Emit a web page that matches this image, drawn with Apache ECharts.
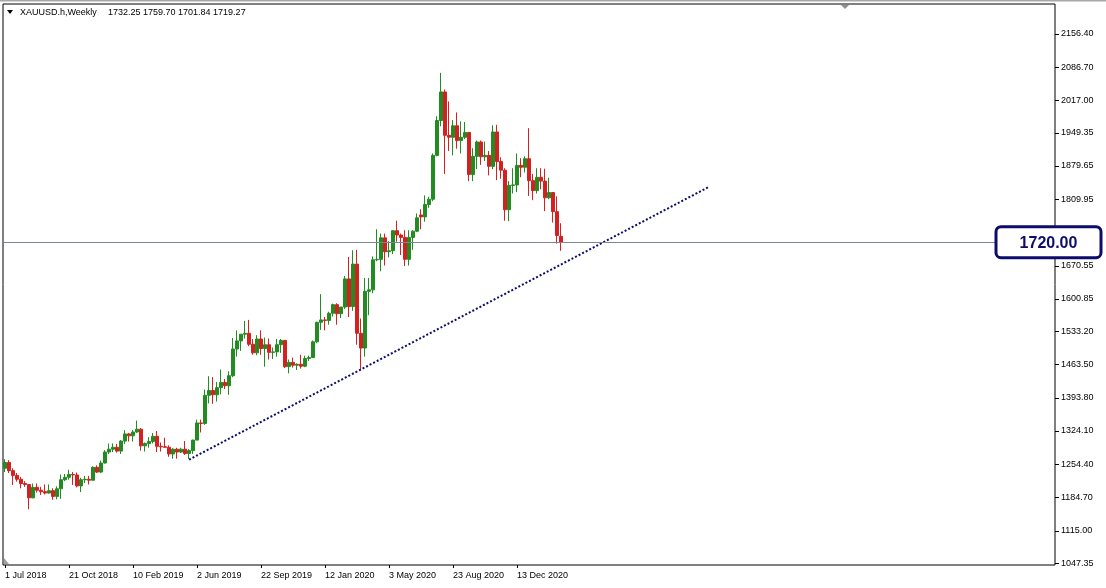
<!DOCTYPE html>
<html><head><meta charset="utf-8">
<script src="https://cdn.jsdelivr.net/npm/echarts@6/dist/echarts.min.js"></script>
<style>html,body{margin:0;padding:0;background:#fff;overflow:hidden}#c{width:1106px;height:588px}</style>
</head><body><div id="c"></div>
<script>
// ---- data ----
const symbolName = 'XAUUSD.h,Weekly';
const tickLabels = ['1 Jul 2018','21 Oct 2018','10 Feb 2019','2 Jun 2019','22 Sep 2019','12 Jan 2020','3 May 2020','23 Aug 2020','13 Dec 2020'];
const yTicks = [2156.40,2086.70,2017.00,1949.35,1879.65,1809.95,1670.55,1600.85,1533.20,1463.50,1393.80,1324.10,1254.40,1184.70,1115.00,1047.35];
const levelPrice = 1720;
const trendPoints = [[46,1264],[176,1836]];
const open = [1246,1258,1241,1231,1223,1214,1212,1184,1206,1200,1197,1194,1199,1187,1203,1222,1227,1233,1232,1209,
1222,1223,1221,1248,1238,1257,1280,1286,1290,1282,1303,1318,1314,1322,1328,1293,1298,1302,1313,1292,
1291,1290,1276,1286,1280,1286,1277,1283,1305,1341,1340,1399,1409,1400,1415,1426,1419,1440,1496,1513,
1527,1529,1506,1488,1517,1497,1505,1489,1490,1505,1514,1459,1468,1462,1464,1460,1476,1478,1511,1552,
1557,1556,1571,1589,1570,1584,1643,1585,1674,1529,1498,1617,1620,1683,1684,1729,1700,1702,1744,1735,
1730,1684,1730,1743,1777,1773,1799,1810,1902,1975,2035,1944,1940,1964,1933,1940,1950,1862,1900,1930,
1899,1902,1879,1951,1889,1871,1788,1839,1840,1881,1877,1895,1849,1828,1856,1848,1813,1824,1784,1732.25];
const high = [1265,1263,1246,1236,1228,1219,1213,1214,1214,1207,1212,1212,1204,1208,1233,1234,1243,1238,1237,1226,
1230,1230,1250,1252,1262,1284,1298,1298,1297,1305,1326,1320,1326,1346,1330,1300,1311,1320,1324,1300,
1310,1294,1288,1289,1289,1303,1286,1306,1348,1348,1411,1439,1437,1427,1453,1433,1449,1519,1535,1527,
1555,1557,1517,1525,1535,1520,1518,1499,1517,1517,1515,1474,1478,1466,1484,1482,1482,1514,1553,1611,
1563,1574,1591,1592,1584,1649,1689,1703,1704,1560,1645,1645,1690,1747,1738,1738,1722,1745,1765,1738,
1745,1745,1745,1780,1789,1818,1815,1906,1984,2075,2040,2015,1976,1992,1973,1972,1951,1917,1933,1933,
1931,1911,1965,1966,1898,1875,1848,1875,1906,1896,1900,1959,1863,1875,1875,1874,1855,1825,1816,1759.70];
const low = [1238,1236,1211,1218,1204,1207,1160,1183,1195,1190,1191,1193,1180,1181,1182,1219,1222,1211,1206,1196,
1215,1212,1220,1236,1236,1256,1276,1280,1279,1276,1297,1302,1302,1320,1283,1281,1289,1298,1280,1281,
1289,1270,1266,1266,1278,1274,1266,1276,1305,1321,1337,1382,1381,1386,1401,1412,1400,1437,1480,1492,
1518,1502,1484,1483,1484,1459,1474,1475,1480,1488,1456,1445,1457,1452,1455,1458,1471,1477,1508,1536,
1535,1547,1564,1547,1561,1580,1563,1576,1505,1451,1480,1567,1613,1680,1659,1671,1688,1695,1721,1693,
1670,1671,1704,1741,1747,1763,1792,1806,1900,1963,1863,1911,1902,1916,1906,1936,1848,1848,1873,1882,
1890,1860,1873,1850,1853,1765,1764,1822,1825,1856,1866,1817,1808,1822,1831,1785,1810,1761,1717,1701.84];
const close = [1258,1241,1231,1223,1214,1212,1184,1206,1200,1197,1194,1199,1187,1203,1222,1227,1233,1232,1209,1222,
1223,1221,1248,1238,1257,1280,1286,1290,1282,1303,1318,1314,1322,1328,1293,1298,1302,1313,1292,1291,
1290,1276,1286,1280,1286,1277,1283,1305,1341,1340,1399,1409,1400,1415,1426,1419,1440,1496,1513,1527,
1529,1506,1488,1517,1497,1505,1489,1490,1505,1514,1459,1468,1462,1464,1460,1476,1478,1511,1552,1557,
1556,1571,1589,1570,1584,1643,1585,1674,1529,1498,1617,1620,1683,1684,1729,1700,1702,1744,1735,1730,
1684,1730,1743,1771,1773,1799,1810,1902,1975,2035,1944,1940,1964,1933,1940,1950,1862,1900,1930,1899,
1902,1879,1951,1889,1871,1788,1839,1840,1881,1877,1895,1849,1828,1856,1848,1813,1824,1784,1734,1719.27];
const slotCount = 263;

// ---- build ----
const categories = [];
for (let i = 0; i < slotCount; i++) {
  categories.push(i % 16 === 0 && i / 16 < tickLabels.length ? tickLabels[i / 16] : '');
}
const candles = open.map((o, i) => [o, close[i], low[i], high[i]]);
const FONT = '"Liberation Sans", Arial, sans-serif';
const GREEN = '#228b22', RED = '#d42020', NAVY = '#0c0c6c';

const chart = echarts.init(document.getElementById('c'), null, {renderer: 'canvas'});
chart.setOption({
  animation: false,
  backgroundColor: '#ffffff',
  grid: {left: 3, top: 4, width: slotCount * 4, height: 561, show: true, borderColor: '#000', borderWidth: 1, backgroundColor: 'transparent'},
  xAxis: {
    type: 'category', data: categories, boundaryGap: true,
    axisLine: {show: false},
    axisTick: {show: true, alignWithLabel: true, length: 3, lineStyle: {color: '#000'}, interval: (i, v) => v !== ''},
    axisLabel: {show: true, interval: (i, v) => v !== '', align: 'left', margin: 6, color: '#000', fontSize: 9, fontFamily: FONT},
    splitLine: {show: false}
  },
  yAxis: {
    type: 'value', position: 'right', min: 1043.2, max: 2219.3, scale: true,
    axisLine: {show: false},
    axisTick: {show: true, length: 4, lineStyle: {color: '#000'}, customValues: yTicks},
    axisLabel: {show: true, customValues: yTicks, margin: 6, color: '#000', fontSize: 9, fontFamily: FONT, formatter: v => v.toFixed(2)},
    splitLine: {show: false}
  },
  series: [
    {
      type: 'candlestick', data: candles, barWidth: 3,
      itemStyle: {color: GREEN, color0: RED, borderColor: GREEN, borderColor0: RED, borderColorDoji: GREEN, borderWidth: 1},
      markLine: {
        silent: true, symbol: ['none', 'none'], label: {show: false},
        lineStyle: {color: '#7a8794', width: 1, type: 'solid'},
        data: [{yAxis: levelPrice}]
      }
    },
    {
      type: 'line', data: trendPoints, symbol: 'none', silent: true,
      lineStyle: {color: NAVY, width: 2, type: [2, 2], cap: 'butt'}
    }
  ]
});

const last = open.length - 1;
const py = chart.convertToPixel({yAxisIndex: 0}, levelPrice);
chart.setOption({
  graphic: [
    {type: 'rect', shape: {x: 0, y: 0, width: 1106, height: 1.5}, style: {fill: '#a8a8a8'}, silent: true},
    {type: 'polygon', shape: {points: [[7, 10], [13, 10], [10, 14]]}, style: {fill: '#000'}, silent: true},
    {type: 'text', x: 20, y: 13, style: {text: symbolName, font: '9px ' + FONT, fill: '#000', verticalAlign: 'middle'}, silent: true},
    {type: 'text', x: 108, y: 13, style: {text: [open[last], high[last], low[last], close[last]].map(v => v.toFixed(2)).join(' '), font: '9px ' + FONT, fill: '#000', verticalAlign: 'middle'}, silent: true},
    {type: 'polygon', shape: {points: [[841, 5], [849, 5], [845, 9]]}, style: {fill: '#8c9096'}, silent: true},
    {type: 'polygon', shape: {points: [[4, 558], [4, 564], [9, 564]]}, style: {fill: '#a0a0a0'}, silent: true},
    {type: 'rect', z: 100, shape: {x: 996, y: py - 15.5, width: 105, height: 31, r: 5}, style: {fill: '#fff', stroke: NAVY, lineWidth: 3}, silent: true},
    {type: 'text', z: 101, x: 1048.5, y: py + 1, style: {text: levelPrice.toFixed(2), font: 'bold 16px ' + FONT, fill: NAVY, align: 'center', verticalAlign: 'middle'}, silent: true}
  ]
});
</script>
</body></html>
